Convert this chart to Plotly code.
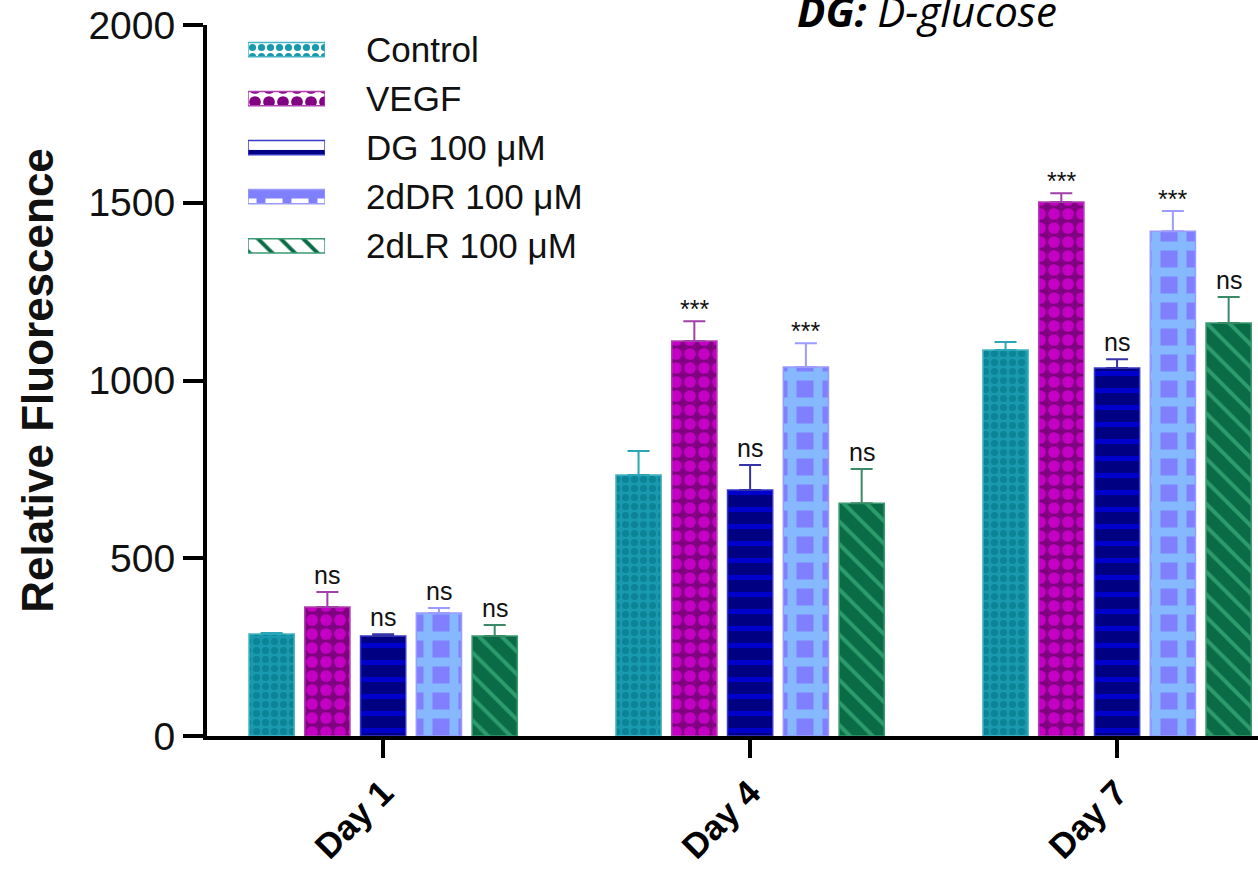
import plotly.graph_objects as go

days = ["Day 1", "Day 4", "Day 7"]
series_names = ["Control", "VEGF", "DG 100 μM", "2dDR 100 μM", "2dLR 100 μM"]

control = [287, 734, 1086]
control_err = [3, 68, 22]
vegf = [363, 1111, 1502]
vegf_err = [42, 56, 25]
dg = [281, 692, 1035]
dg_err = [5, 70, 25]
ddr = [346, 1038, 1420]
ddr_err = [14, 67, 57]
dlr = [281, 655, 1162]
dlr_err = [31, 96, 73]

sig_control = ["", "", ""]
sig_vegf = ["ns", "***", "***"]
sig_dg = ["ns", "ns", "ns"]
sig_ddr = ["ns", "***", "***"]
sig_dlr = ["ns", "ns", "ns"]

y_ticks = [0, 500, 1000, 1500, 2000]

values = [control, vegf, dg, ddr, dlr]
errors = [control_err, vegf_err, dg_err, ddr_err, dlr_err]
sigs = [sig_control, sig_vegf, sig_dg, sig_ddr, sig_dlr]

styles = [
    dict(shape=".", bg="#1899ad", fg="#0c8397", size=9, sol=0.5, line="#45b5c5", err="#2aa6b8"),
    dict(shape=".", bg="#820082", fg="#c400c4", size=14, sol=0.55, line="#b040b0", err="#a040a8"),
    dict(shape="-", bg="#000082", fg="#0000cc", size=17, sol=0.3, line="#3a3ac8", err="#3434a8"),
    dict(shape="+", bg="#8080ff", fg="#86b8ff", size=26, sol=0.57, line="#9a9aff", err="#9c9cff"),
    dict(shape="\\", bg="#0a6b47", fg="#2c9c6c", size=16, sol=0.25, line="#3a9a72", err="#3a8a68"),
]

FONT = "Arial, Liberation Sans, sans-serif"
W, H = 1258, 877
ML, MR, MT, MB = 207, 0, 25, 141
XR = [-0.48, 2.384]
BARGAP = 0.24
BARGROUPGAP = 0.19

fig = go.Figure()
for name, v, e, s in zip(series_names, values, errors, styles):
    fig.add_trace(go.Bar(
        x=days, y=v, name=name, showlegend=False,
        marker=dict(color=s["bg"], line=dict(color=s["line"], width=1.5),
                    pattern=dict(shape=s["shape"], bgcolor=s["bg"], fgcolor=s["fg"],
                                 size=s["size"], solidity=s["sol"], fillmode="replace")),
        error_y=dict(type="data", array=e, arrayminus=[0] * len(e), symmetric=False,
                     color=s["err"], thickness=2, width=11),
    ))

# significance labels above error bars
plot_w = W - ML - MR
px_per_cat = plot_w / (XR[1] - XR[0])
slot = px_per_cat * (1 - BARGAP) / len(series_names)
annotations = []
for i, (v, e, sg) in enumerate(zip(values, errors, sigs)):
    for d, vv, ee, t in zip(days, v, e, sg):
        if not t:
            continue
        annotations.append(dict(
            x=d, y=vv + ee, xref="x", yref="y", text=t, showarrow=False,
            xshift=(i - 2) * slot, yanchor="bottom", yshift=1 if t == "ns" else -4,
            font=dict(family=FONT, size=25, color="#111111"),
        ))

annotations.append(dict(
    x=0.685, y=0.978, xref="paper", yref="paper", xanchor="center", yanchor="bottom",
    showarrow=False,
    text="<b><i>DG:</i></b><i> D-glucose</i>",
    font=dict(family="Open Sans, sans-serif", size=42, color="#000000"),
))

# legend keys drawn as horizontal bars on an overlay axis
fig.add_trace(go.Bar(
    x=[1] * len(series_names), y=series_names, orientation="h", width=0.29,
    xaxis="x2", yaxis="y2", showlegend=False, hoverinfo="skip",
    marker=dict(color=[s["bg"] for s in styles],
                line=dict(color=[s["line"] for s in styles], width=1.5),
                pattern=dict(shape=[s["shape"] for s in styles],
                             bgcolor=[s["bg"] for s in styles],
                             fgcolor=[s["fg"] for s in styles],
                             size=[s["size"] for s in styles],
                             solidity=[s["sol"] for s in styles],
                             fillmode="replace")),
))

fig.update_layout(
    width=W, height=H,
    margin=dict(l=ML, r=MR, t=MT, b=MB),
    paper_bgcolor="white", plot_bgcolor="white",
    barmode="group", bargap=BARGAP, bargroupgap=BARGROUPGAP,
    showlegend=False,
    annotations=annotations,
    xaxis=dict(
        type="category", range=XR, showgrid=False, zeroline=False,
        showline=True, linecolor="black", linewidth=4,
        ticks="outside", ticklen=18, tickwidth=4, tickcolor="black",
        tickangle=-45, tickprefix="<b>", ticksuffix="</b>",
        tickfont=dict(family=FONT, size=35, color="black"),
    ),
    yaxis=dict(
        range=[0, 2000], tickvals=y_ticks, showgrid=False, zeroline=False,
        showline=True, linecolor="black", linewidth=4,
        ticks="outside", ticklen=20, tickwidth=4, tickcolor="black",
        tickfont=dict(family=FONT, size=39, color="#111111"),
        title=dict(text="<b>Relative Fluorescence</b>", standoff=22,
                   font=dict(family=FONT, size=44, color="#111111")),
    ),
    xaxis2=dict(domain=[0.039, 0.1123], range=[0, 1], anchor="y2",
                visible=False, fixedrange=True),
    yaxis2=dict(domain=[0.655, 1.0], anchor="x2", type="category",
                autorange="reversed", side="right", showgrid=False,
                zeroline=False, showline=False, ticks="",
                ticklabelstandoff=40,
                tickfont=dict(family=FONT, size=35, color="#111111")),
)

fig.write_html("out.html")
